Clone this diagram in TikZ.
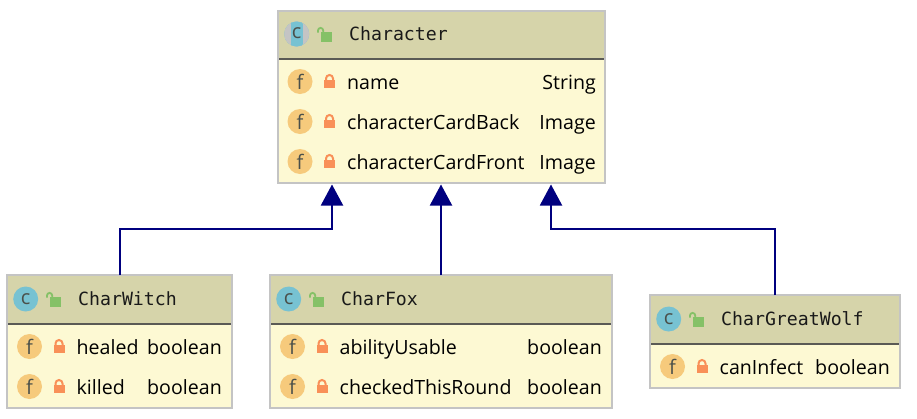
\documentclass[tikz,border=0pt]{standalone}
\usepackage{fontspec}
\setmainfont{Open Sans}
\setmonofont{DejaVu Sans Mono}
\usetikzlibrary{arrows.meta}
\definecolor{hdr}{HTML}{D6D4AA}
\definecolor{bodyc}{HTML}{FDF9D3}
\definecolor{brd}{HTML}{C4C4C4}
\definecolor{sepc}{HTML}{5A5A55}
\definecolor{ficon}{HTML}{F6CA7C}
\definecolor{cicon}{HTML}{77C2D2}
\definecolor{rlock}{HTML}{F99058}
\definecolor{glock}{HTML}{85C167}
\definecolor{iconink}{HTML}{4A4F4A}
\definecolor{edgec}{HTML}{00007F}
\tikzset{
  x=1pt,y=-1pt,
  umlbox/.style={draw=brd,fill=bodyc,line width=2pt,inner sep=0pt,outer sep=0pt,anchor=north west},
  ftext/.style={anchor=base west,inner sep=0pt,font=\fontsize{19.6}{24}\selectfont,text=black},
  ttext/.style={anchor=base east,inner sep=0pt,font=\fontsize{19.6}{24}\selectfont,text=black},
  titletext/.style={anchor=base west,inner sep=0pt,font=\ttfamily\fontsize{18.2}{22}\selectfont,text=black!90},
  ficonnode/.style={circle,fill=ficon,minimum size=25pt,inner sep=0pt,text=iconink,font=\fontsize{20}{24}\selectfont},
  ciconnode/.style={circle,fill=cicon,minimum size=25pt,inner sep=0pt,text=iconink,font=\fontsize{20}{24}\selectfont},
  inherit/.style={draw=edgec,line width=2pt,-{Triangle[width=22pt,length=21pt,fill=edgec]}},
}
% #1 name  #2 L  #3 T  #4 R  #5 B  #6 separator y  #7 title
\newcommand{\umlclass}[7]{%
  \node[umlbox,minimum width={#4-#2},minimum height={#5-#3}] (#1) at (#2,#3) {};
  \fill[hdr] ({#2+1},{#3+1}) rectangle ({#4-1},#6);
  \draw[sepc,line width=2pt] ({#2+1},#6) -- ({#4-1},#6);
  \node[ciconnode] (#1c) at ({#2+18.7},{#6-25}) {c};
  \fill[glock] ({#2+42.5},{#6-27}) rectangle ({#2+53.5},{#6-17.5});
  \draw[glock,line width=1.8pt] ({#2+40},{#6-26.5}) -- ({#2+40},{#6-28.5}) arc[start angle=180,end angle=360,radius=2.6] -- ++(0,1.5);
  \node[titletext] (#1t) at ({#2+71},{#6-18.6}) {#7};
}
% #1 name  #2 L  #3 R  #4 baseline  #5 text  #6 type
\newcommand{\umlfield}[6]{%
  \node[ficonnode] (#1i) at ({#2+22.5},{#4-7.5}) {f};
  \fill[rlock] ({#2+46.5},{#4-9}) rectangle ({#2+57.5},{#4-1});
  \draw[rlock,line width=2pt] ({#2+48.5},{#4-8.5}) -- ({#2+48.5},{#4-10.5}) arc[start angle=180,end angle=360,radius=3.5] -- ({#2+55.5},{#4-8.5});
  \node[ftext] (#1a) at ({#2+69.5},{#4+0.7}) {#5};
  \node[ttext] (#1b) at (#3,{#4+0.7}) {#6};
}
\begin{document}
\begin{tikzpicture}
\useasboundingbox (0,0) rectangle (917,418);
\fill[white] (0,0) rectangle (917,418);

\umlclass{character}{278}{11}{605}{183}{59}{Character}
\fill[brd] (296.7,34) circle[radius=12.5];
\begin{scope}
\clip (296.7,34) circle[radius=12.5];
\fill[cicon] (290.5,20) rectangle (302.5,48);
\end{scope}
\node[inner sep=0pt,text=iconink,font=\fontsize{20}{24}\selectfont] (charactercc) at (296.7,33.5) {c};
\umlfield{fname}{277.5}{596}{89}{name}{String}
\umlfield{fback}{277.5}{596}{129}{characterCardBack}{Image}
\umlfield{ffront}{277.5}{596}{169}{characterCardFront}{Image}

\umlclass{witch}{7}{275}{232}{408}{324}{CharWitch}
\umlfield{fhealed}{7}{222}{354}{healed}{boolean}
\umlfield{fkilled}{7}{222}{394}{killed}{boolean}

\umlclass{fox}{270}{275}{612}{408}{324}{CharFox}
\umlfield{fability}{270}{602}{354}{abilityUsable}{boolean}
\umlfield{fchecked}{270}{602}{394}{checkedThisRound}{boolean}

\umlclass{wolf}{650}{295}{900}{388}{344}{CharGreatWolf}
\umlfield{finfect}{650}{890}{374}{canInfect}{boolean}

\coordinate (tipa) at (332,184.5);
\coordinate (tipb) at (441,184.5);
\coordinate (tipc) at (551,184.5);
\coordinate (bendy) at (0,229);
\draw[inherit] (witch.north) |- (bendy -| tipa) -- (tipa);
\draw[inherit] (fox.north) -- (tipb);
\draw[inherit] (wolf.north) |- (bendy -| tipc) -- (tipc);
\end{tikzpicture}
\end{document}
